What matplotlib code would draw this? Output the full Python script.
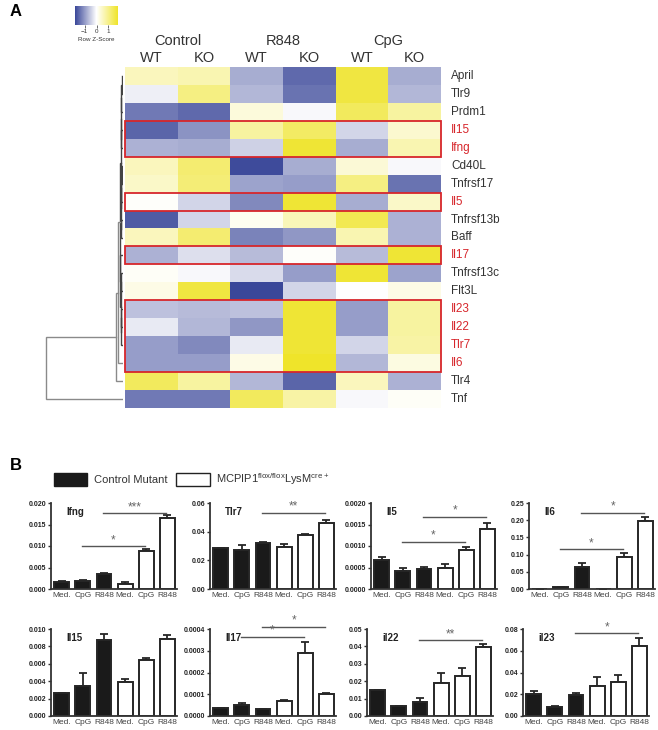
import matplotlib
matplotlib.use('Agg')
import matplotlib.pyplot as plt
from matplotlib.colors import LinearSegmentedColormap, Normalize
from matplotlib.patches import Rectangle, Patch
import matplotlib.colorbar as mcolorbar
import numpy as np

plt.rcParams['font.family'] = ['Liberation Sans', 'DejaVu Sans']
plt.rcParams['mathtext.default'] = 'regular'

W, H = 658, 730

# ---------------- heatmap data (row z-scores) ----------------
conditions = ['Control', 'R848', 'CpG']
genotypes = ['WT', 'KO']
genes = ['April', 'Tlr9', 'Prdm1', 'Il15', 'Ifng', 'Cd40L', 'Tnfrsf17', 'Il5',
         'Tnfrsf13b', 'Baff', 'Il17', 'Tnfrsf13c', 'Flt3L', 'Il23', 'Il22',
         'Tlr7', 'Il6', 'Tlr4', 'Tnf']
highlight = ['Il15', 'Ifng', 'Il5', 'Il17', 'Il23', 'Il22', 'Tlr7', 'Il6']
zscores = [
    [0.55, 0.65, -0.8, -1.45, 1.6, -0.8],
    [-0.15, 1.05, -0.7, -1.35, 1.6, -0.7],
    [-1.3, -1.45, 0.3, -0.07, 1.35, 0.8],
    [-1.5, -1.05, 0.8, 1.3, -0.4, 0.4],
    [-0.75, -0.8, -0.45, 1.7, -0.8, 0.65],
    [0.55, 1.2, -1.75, -0.8, 0.35, -0.07],
    [0.45, 1.15, -0.9, -0.95, 1.05, -1.35],
    [0.03, -0.4, -1.15, 1.7, -0.8, 0.45],
    [-1.6, -0.4, 0.12, 0.6, 1.45, -0.75],
    [0.55, 1.2, -1.2, -1.0, 0.65, -0.75],
    [-0.75, -0.3, -0.65, 0.03, -0.65, 1.7],
    [0.07, -0.07, -0.35, -0.95, 1.7, -0.9],
    [0.2, 1.6, -1.85, -0.4, 0.0, 0.2],
    [-0.6, -0.65, -0.6, 1.7, -0.95, 0.8],
    [-0.2, -0.7, -1.0, 1.7, -0.95, 0.8],
    [-0.95, -1.15, -0.2, 1.7, -0.4, 0.75],
    [-0.95, -0.95, 0.2, 1.8, -0.7, 0.25],
    [1.35, 0.8, -0.7, -1.5, 0.55, -0.75],
    [-1.3, -1.3, 1.35, 0.75, -0.07, 0.07],
]
# row dendrogram: (left, right, height); leaves are row indices
linkage = [
    (0, 1, 0.006), (5, 6, 0.006), (3, 4, 0.008), (13, 14, 0.008),
    (19, 2, 0.010), (20, 7, 0.010), (22, 15, 0.012), (8, 9, 0.010),
    (11, 12, 0.010), (23, 21, 0.013), (24, 26, 0.014), (27, 25, 0.016),
    (28, 29, 0.018), (10, 30, 0.020), (31, 32, 0.022), (33, 16, 0.055),
    (34, 17, 0.08), (35, 18, 1.0),
]

# ---------------- qPCR bar data ----------------
stim_labels = ['Med.', 'CpG', 'R848', 'Med.', 'CpG', 'R848']
bar_genes = ['Ifng', 'Tlr7', 'Il5', 'Il6', 'Il15', 'Il17', 'il22', 'il23']
ifng = [0.0016, 0.0019, 0.0034, 0.0011, 0.0088, 0.0165]
ifng_sem = [0.0003, 0.0003, 0.0004, 0.0006, 0.0006, 0.0006]
tlr7 = [0.0285, 0.0275, 0.0322, 0.0295, 0.0375, 0.0458]
tlr7_sem = [0.0003, 0.003, 0.0007, 0.0022, 0.0008, 0.0023]
il5 = [0.00068, 0.00043, 0.00047, 0.00049, 0.00091, 0.00139]
il5_sem = [0.00006, 0.00005, 0.00005, 0.0001, 0.00006, 0.00015]
il6 = [0.0, 0.006, 0.063, 0.0, 0.093, 0.198]
il6_sem = [0.0, 0.0, 0.014, 0.0, 0.012, 0.01]
il15 = [0.0026, 0.0035, 0.0087, 0.0039, 0.0064, 0.0088]
il15_sem = [0.0001, 0.0014, 0.0007, 0.0003, 0.0003, 0.0005]
il17 = [0.000035, 0.00005, 0.00003, 0.000067, 0.00029, 0.0001]
il17_sem = [0.000003, 0.000012, 0.000004, 0.000005, 0.00005, 0.000004]
il22 = [0.015, 0.0055, 0.008, 0.019, 0.0228, 0.0398]
il22_sem = [0.0002, 0.0003, 0.0025, 0.0055, 0.0045, 0.0015]
il23 = [0.020, 0.0085, 0.019, 0.028, 0.031, 0.064]
il23_sem = [0.003, 0.0008, 0.002, 0.0075, 0.0065, 0.008]

ifng_ticks = ['0.000', '0.005', '0.010', '0.015', '0.020']
tlr7_ticks = ['0.00', '0.02', '0.04', '0.06']
il5_ticks = ['0.0000', '0.0005', '0.0010', '0.0015', '0.0020']
il6_ticks = ['0.00', '0.05', '0.10', '0.15', '0.20', '0.25']
il15_ticks = ['0.000', '0.002', '0.004', '0.006', '0.008', '0.010']
il17_ticks = ['0.0000', '0.0001', '0.0002', '0.0003', '0.0004']
il22_ticks = ['0.00', '0.01', '0.02', '0.03', '0.04', '0.05']
il23_ticks = ['0.00', '0.02', '0.04', '0.06', '0.08']

# significance brackets: (bar i, bar j, level, stars)
ifng_sig = [(1, 4, 0.0100, '*'), (2, 5, 0.0176, '***')]
tlr7_sig = [(2, 5, 0.0533, '**')]
il5_sig = [(1, 4, 0.0011, '*'), (2, 5, 0.00168, '*')]
il6_sig = [(1, 4, 0.116, '*'), (2, 5, 0.222, '*')]
il15_sig = []
il17_sig = [(1, 4, 0.000365, '*'), (2, 5, 0.000411, '*')]
il22_sig = [(2, 5, 0.0437, '**')]
il23_sig = [(2, 5, 0.0763, '*')]

panels = [
    (ifng, ifng_sem, ifng_ticks, ifng_sig),
    (tlr7, tlr7_sem, tlr7_ticks, tlr7_sig),
    (il5, il5_sem, il5_ticks, il5_sig),
    (il6, il6_sem, il6_ticks, il6_sig),
    (il15, il15_sem, il15_ticks, il15_sig),
    (il17, il17_sem, il17_ticks, il17_sig),
    (il22, il22_sem, il22_ticks, il22_sig),
    (il23, il23_sem, il23_ticks, il23_sig),
]


def px_axes(fig, x0, y0, x1, y1):
    return fig.add_axes([x0 / W, 1 - y1 / H, (x1 - x0) / W, (y1 - y0) / H])


fig = plt.figure(figsize=(W / 100, H / 100), dpi=100)

# ---------------- panel A ----------------
cmap = LinearSegmentedColormap.from_list('zs', ['#3a4799', '#ffffff', '#efe42a'])
vmin, vmax = -1.8, 1.8
ax = px_axes(fig, 125, 67, 441, 408)
ax.imshow(np.array(zscores), cmap=cmap, vmin=vmin, vmax=vmax, aspect='auto',
          interpolation='nearest')
ax.set_xlim(-0.5, 5.5)
ax.set_ylim(len(genes) - 0.5, -0.5)
ax.axis('off')
for k, c in enumerate(conditions):
    ax.text(2 * k + 0.5, -1.95, c, ha='center', va='center', fontsize=10.5,
            color='#333333')
    for g, gt in enumerate(genotypes):
        ax.text(2 * k + g, -1.0, gt, ha='center', va='center', fontsize=10.5,
                color='#333333')
for r, gname in enumerate(genes):
    ax.text(5.69, r, gname, ha='left', va='center', fontsize=8.5,
            color='#d7262b' if gname in highlight else '#333333')

# red boxes around highlighted runs of rows
r = 0
while r < len(genes):
    if genes[r] in highlight:
        s = r
        while r < len(genes) and genes[r] in highlight:
            r += 1
        ax.add_patch(Rectangle((-0.5, s - 0.5), 6, r - s, fill=False,
                               edgecolor='#d7262b', lw=1.3, clip_on=False))
    else:
        r += 1

# row dendrogram
dax = px_axes(fig, 40, 67, 123, 408)
dax.set_ylim(len(genes) - 0.5, -0.5)
dax.set_xlim(1.079, -0.013)
dax.axis('off')
pos = {i: (float(i), 0.0) for i in range(len(genes))}
for n, (a, b, h) in enumerate(linkage):
    ya, ha = pos[a]
    yb, hb = pos[b]
    col = '#444444' if h < 0.03 else '#8a8a8a'
    dax.plot([ha, h, h, hb], [ya, ya, yb, yb], color=col, lw=1.0,
             solid_joinstyle='miter')
    pos[len(genes) + n] = ((ya + yb) / 2, h)

# colour key
cax = px_axes(fig, 75, 6, 118, 25)
cb = mcolorbar.ColorbarBase(cax, cmap=cmap, norm=Normalize(vmin, vmax),
                            orientation='horizontal', ticks=[-1, 0, 1])
cb.outline.set_visible(False)
cax.tick_params(labelsize=4.5, length=2, width=0.5, pad=1, colors='#333333')
cax.set_xlabel('Row Z-Score', fontsize=4.5, labelpad=2, color='#333333')

fig.text(10 / W, 1 - 12 / H, 'A', fontsize=12, fontweight='bold', va='center')
fig.text(10 / W, 1 - 465 / H, 'B', fontsize=12, fontweight='bold', va='center')

# ---------------- panel B ----------------
handles = [Patch(facecolor='#1a1a1a', edgecolor='#1a1a1a'),
           Patch(facecolor='white', edgecolor='#222222', lw=1.0)]
fig.legend(handles, ['Control Mutant', 'MCPIP1$^{flox/flox}$LysM$^{cre+}$'],
           loc='center left', bbox_to_anchor=(44 / W, 1 - 479 / H), ncol=2,
           frameon=False, fontsize=8, handlelength=3.0, handleheight=1.4,
           columnspacing=0.8, handletextpad=0.6, labelcolor='#333333')

row_tops = [503, 629]
row_bots = [589, 716]
col_left = [[51, 210, 371, 529], [51, 210, 367, 523]]
for p, (vals, sem, ticks, sigs) in enumerate(panels):
    rw, cl = divmod(p, 4)
    x0 = col_left[rw][cl]
    bx = px_axes(fig, x0, row_tops[rw], x0 + 126, row_bots[rw])
    x = np.arange(len(vals))
    colors = ['#1a1a1a'] * 3 + ['white'] * 3
    bx.bar(x, vals, width=0.7, color=colors, edgecolor='#262626', lw=1.4,
           zorder=2)
    bx.errorbar(x, vals, yerr=[np.zeros(len(sem)), sem], fmt='none',
                ecolor='#262626', elinewidth=1.3, capsize=3, capthick=1.3,
                zorder=1)
    tick_vals = [float(t) for t in ticks]
    bx.set_ylim(0, tick_vals[-1])
    bx.set_yticks(tick_vals)
    bx.set_yticklabels(ticks, fontsize=5, fontweight='bold', color='#222222')
    bx.set_xlim(-0.5, 5.45)
    bx.set_xticks(x)
    bx.set_xticklabels(stim_labels, fontsize=6, color='#444444')
    for sp in ['top', 'right']:
        bx.spines[sp].set_visible(False)
    for sp in ['left', 'bottom']:
        bx.spines[sp].set_color('#333333')
        bx.spines[sp].set_linewidth(1.3)
    bx.tick_params(axis='y', length=2.5, width=1.0, pad=1, color='#333333')
    bx.tick_params(axis='x', length=0, pad=2)
    bx.text(0.12, 0.9, bar_genes[p], transform=bx.transAxes, fontsize=7,
            fontweight='bold', va='center', ha='left', color='#222222')
    for i, j, lvl, stars in sigs:
        bx.plot([i - 0.05, j - 0.05], [lvl, lvl], color='#555555', lw=1.0,
                clip_on=False)
        bx.text((i + j) / 2 - 0.05, lvl, stars, ha='center', va='bottom',
                fontsize=8.5, color='#666666', clip_on=False)

fig.savefig('out.png', dpi=100)
